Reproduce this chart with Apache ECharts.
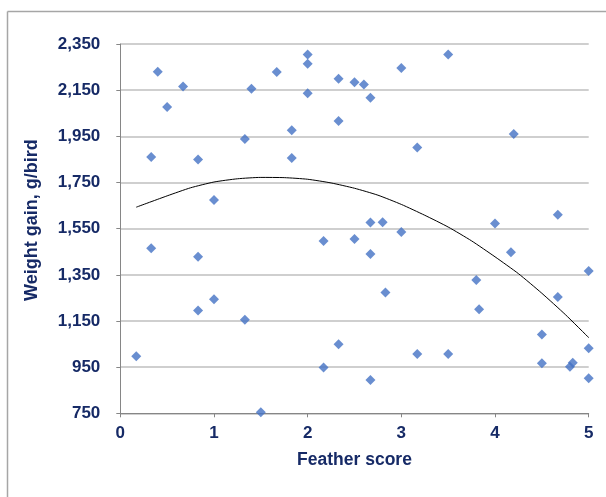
<!DOCTYPE html>
<html>
<head>
<meta charset="utf-8">
<script src="https://cdn.jsdelivr.net/npm/echarts@6/dist/echarts.min.js"></script>
<style>
  html, body { margin: 0; padding: 0; background: #fff; }
  #chart { width: 606px; height: 497px; }
</style>
</head>
<body>
<div id="chart"></div>
<script>
/* feather score vs weight gain */
var SCORE = [0.17, 0.33, 0.33, 0.4, 0.5, 0.67, 0.83, 0.83, 0.83, 1.0, 1.0, 1.33, 1.33, 1.4, 1.5,
  1.67, 1.83, 1.83, 2.0, 2.0, 2.0, 2.17, 2.17, 2.33, 2.33, 2.33, 2.5, 2.5, 2.6, 2.67, 2.67, 2.67, 2.67,
  2.8, 2.83, 3.0, 3.0, 3.17, 3.17, 3.5, 3.5, 3.8, 3.83, 4.0, 4.17, 4.2, 4.5, 4.5, 4.67, 4.67,
  4.8, 4.83, 5.0, 5.0, 5.0];
var GAIN = [997, 1860, 1465, 2230, 2077, 2166, 1850, 1428, 1195, 1674, 1244, 1938, 1155, 2156, 755,
  2229, 1976, 1856, 2305, 2264, 2137, 1496, 948, 2199, 2016, 1049, 2184, 1505, 2174, 2117, 1577, 1440, 894,
  1578, 1273, 2246, 1535, 1902, 1007, 2305, 1007, 1328, 1201, 1572, 1448, 1960, 1091, 967, 1610, 1254,
  952, 969, 1367, 1032, 902];

/* trend line (polynomial) points */
var TREND_X = [0.17, 0.5, 0.75, 1.0, 1.25, 1.5, 1.75, 2.0, 2.25, 2.5, 2.75, 3.0, 3.25, 3.5, 3.75,
  4.0, 4.25, 4.5, 4.75, 5.0];
var TREND_Y = [1643, 1692, 1727, 1752, 1766, 1772, 1771, 1764, 1748, 1725, 1695, 1655, 1608, 1557, 1497,
  1428, 1355, 1270, 1178, 1078];

var Y_TICKS = [750, 950, 1150, 1350, 1550, 1750, 1950, 2150, 2350];

var NAVY = '#162a66';
var FONT = 'Liberation Sans, Arial, sans-serif';

var points = SCORE.map(function (x, i) { return [x, GAIN[i]]; });
var trend = TREND_X.map(function (x, i) { return [x, TREND_Y[i]]; });

var option = {
  backgroundColor: '#fff',
  animation: false,
  grid: { left: 120.3, right: 17.3, top: 44, bottom: 83.7 },
  xAxis: {
    type: 'value',
    min: 0, max: 5, interval: 1,
    name: 'Feather score',
    nameLocation: 'middle',
    nameGap: 38,
    nameTextStyle: { color: NAVY, fontFamily: FONT, fontWeight: 'bold', fontSize: 17.5 },
    axisLine: { show: true, lineStyle: { color: '#868686', width: 1 } },
    axisTick: { show: true, length: 4, lineStyle: { color: '#868686' } },
    axisLabel: { color: NAVY, fontFamily: FONT, fontWeight: 'bold', fontSize: 17, margin: 12 },
    splitLine: { show: false }
  },
  yAxis: {
    type: 'value',
    min: Y_TICKS[0], max: Y_TICKS[Y_TICKS.length - 1], interval: 200,
    name: 'Weight gain, g/bird',
    nameLocation: 'middle',
    nameGap: 79,
    nameTextStyle: { color: NAVY, fontFamily: FONT, fontWeight: 'bold', fontSize: 18, padding: [0, 0, 0, 17] },
    axisLine: { show: true, lineStyle: { color: '#868686', width: 1 } },
    axisTick: { show: true, length: 4, lineStyle: { color: '#868686' } },
    axisLabel: {
      color: NAVY, fontFamily: FONT, fontWeight: 'bold', fontSize: 17, margin: 20,
      formatter: function (v) { return v.toLocaleString('en-US'); }
    },
    splitLine: { show: true, lineStyle: { color: '#bfbfbf', width: 1.5 } }
  },
  graphic: [
    { type: 'line', shape: { x1: 7.5, y1: 11.5, x2: 606, y2: 11.5 }, style: { stroke: '#a6a6a6', lineWidth: 1.5 } },
    { type: 'line', shape: { x1: 7.5, y1: 11.5, x2: 7.5, y2: 497 }, style: { stroke: '#a6a6a6', lineWidth: 1.5 } }
  ],
  series: [
    {
      name: 'trend',
      type: 'line',
      data: trend,
      smooth: 0.2,
      showSymbol: false,
      lineStyle: { color: '#000', width: 1 },
      z: 1
    },
    {
      name: 'birds',
      type: 'scatter',
      data: points,
      symbol: 'diamond',
      symbolSize: 10,
      itemStyle: { color: '#4472c4' },
      z: 2
    }
  ]
};

var chart = echarts.init(document.getElementById('chart'));
chart.setOption(option);
</script>
</body>
</html>
